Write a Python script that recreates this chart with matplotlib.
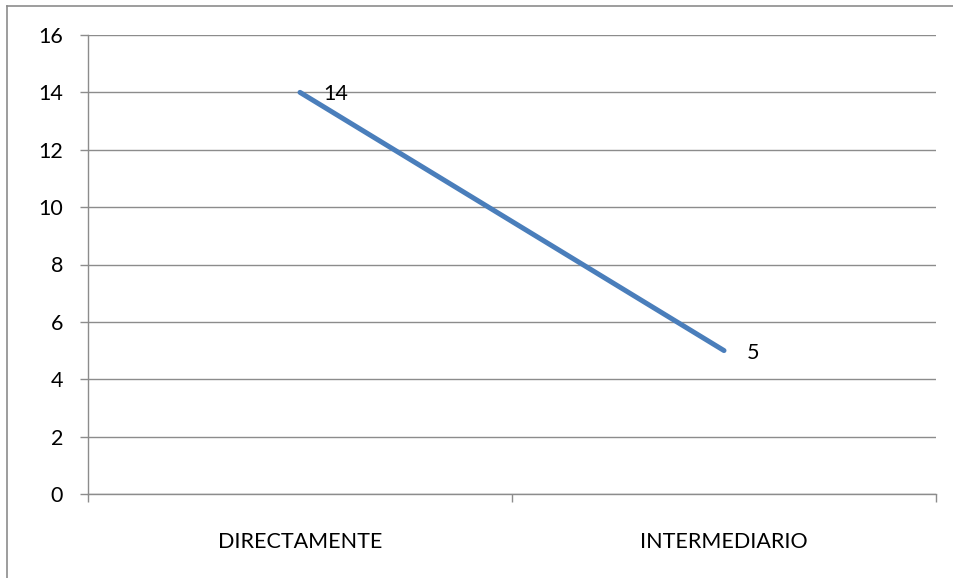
import matplotlib
matplotlib.use("Agg")
import matplotlib.pyplot as plt
from matplotlib.lines import Line2D

categories = ["DIRECTAMENTE", "INTERMEDIARIO"]
values = [14, 5]
yticks = [0, 2, 4, 6, 8, 10, 12, 14, 16]

plt.rcParams["font.family"] = ["Lato", "DejaVu Sans"]

fig = plt.figure(figsize=(9.54, 5.78), dpi=100)
ax = fig.add_axes([88 / 954, 1 - 494 / 578, 848 / 954, 459 / 578])

grid_color = "#8c8c8c"
line_color = "#4a7ebb"

x = list(range(len(categories)))
ax.plot(x, values, color=line_color, linewidth=3.6, solid_capstyle="round", zorder=3)

for xi, v in zip(x, values):
    ax.annotate(str(v), (xi, v), xytext=(16.5, -1.5), textcoords="offset points",
                ha="left", va="center", fontsize=15.5, color="black", zorder=4)

ax.set_xlim(-0.5, len(categories) - 0.5)
ax.set_ylim(0, 16)
ax.set_yticks(yticks)
ax.set_yticklabels([str(t) for t in yticks], fontsize=15.5)
ax.yaxis.grid(True, color=grid_color, linewidth=1.0)
ax.set_axisbelow(True)

ax.set_xticks(x)
ax.set_xticklabels(categories, fontsize=15.5)
ax.tick_params(axis="x", length=0, pad=27)
ax.tick_params(axis="y", length=6, width=1.0, color=grid_color, pad=12)

# minor ticks at category boundaries
ax.set_xticks([-0.5, 0.5, 1.5], minor=True)
ax.tick_params(axis="x", which="minor", length=6, width=1.0, color=grid_color, direction="out")

for side in ["top", "right"]:
    ax.spines[side].set_visible(False)
for side in ["left", "bottom"]:
    ax.spines[side].set_color(grid_color)
    ax.spines[side].set_linewidth(1.0)

# chart frame (left and top edges)
fig.add_artist(Line2D([7.5 / 954, 7.5 / 954], [0, 1 - 6 / 578], transform=fig.transFigure,
                      color="#8c8c8c", linewidth=1.2))
fig.add_artist(Line2D([7.5 / 954, 1], [1 - 6 / 578, 1 - 6 / 578], transform=fig.transFigure,
                      color="#8c8c8c", linewidth=1.2))

fig.savefig("out.png", dpi=100)
